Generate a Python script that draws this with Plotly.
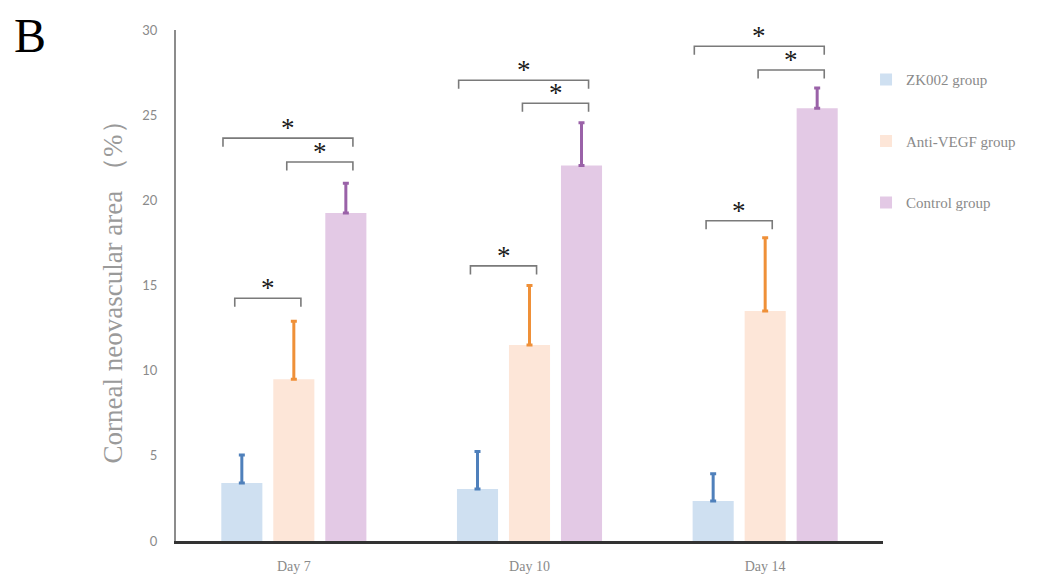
import plotly.graph_objects as go

days = ["Day 7", "Day 10", "Day 14"]
groups = ["ZK002 group", "Anti-VEGF group", "Control group"]
means = {
    "ZK002 group": [3.4, 3.05, 2.35],
    "Anti-VEGF group": [9.5, 11.5, 13.5],
    "Control group": [19.25, 22.05, 25.4],
}
errors = {
    "ZK002 group": [1.65, 2.2, 1.6],
    "Anti-VEGF group": [3.4, 3.5, 4.3],
    "Control group": [1.75, 2.5, 1.2],
}
bar_colors = ["#cfe0f1", "#fde6d8", "#e3c9e5"]
err_colors = ["#4f80bb", "#ef9038", "#9a62a8"]

# significance brackets: (day index, left group index, right group index, height)
brackets = [
    (0, 0, 2, 23.65), (0, 1, 2, 22.25), (0, 0, 1, 14.25),
    (1, 0, 2, 27.05), (1, 1, 2, 25.7), (1, 0, 1, 16.15),
    (2, 0, 2, 29.05), (2, 1, 2, 27.65), (2, 0, 1, 18.8),
]

BARGAP = 0.338
BARGROUPGAP = 0.21
slot = (1 - BARGAP) / len(groups)

fig = go.Figure()
for i, g in enumerate(groups):
    fig.add_trace(go.Bar(
        x=days, y=means[g], name=g,
        marker=dict(color=bar_colors[i], line=dict(width=0)),
        error_y=dict(type="data", symmetric=False, array=errors[g],
                     arrayminus=[0] * len(days), color=err_colors[i],
                     thickness=3, width=3),
        legendgroup=g,
    ))

def bar_center(day_idx, grp_idx):
    return day_idx + (grp_idx - (len(groups) - 1) / 2) * slot

line_col = "#7a7a7a"
leg = 0.5
for d, a, b, h in brackets:
    pad_l = 0.08 if (b - a) == 2 else 0.03
    x0 = bar_center(d, a) - pad_l
    x1 = bar_center(d, b) + 0.03
    fig.add_shape(type="path",
                  path=f"M {x0} {h - leg} L {x0} {h} L {x1} {h} L {x1} {h - leg}",
                  xref="x", yref="y", line=dict(color=line_col, width=1.6))
    fig.add_annotation(x=(x0 + x1) / 2, y=h, xref="x", yref="y", text="*",
                       showarrow=False, yanchor="bottom", yshift=-7,
                       font=dict(family="Liberation Serif", size=27, color="#1a1a1a"))

fig.add_annotation(x=-0.206, y=1.045, xref="paper", yref="paper", text="B",
                   showarrow=False, xanchor="center", yanchor="top",
                   font=dict(family="Liberation Serif", size=48, color="#000"))

fig.update_layout(
    width=1029, height=566,
    margin=dict(l=168, r=154, t=22, b=33),
    paper_bgcolor="white", plot_bgcolor="white",
    barmode="group", bargap=BARGAP, bargroupgap=BARGROUPGAP,
    showlegend=True,
    legend=dict(x=0.976, y=0.935, xanchor="left", yanchor="top",
                traceorder="grouped", tracegroupgap=39,
                font=dict(family="Liberation Serif", size=15, color="#8a8a8a"),
                bgcolor="rgba(0,0,0,0)"),
    xaxis=dict(showline=True, linecolor="#333", linewidth=2.5, automargin=False,
               ticks="", showgrid=False, zeroline=False, ticklabelstandoff=10,
               tickfont=dict(family="Liberation Serif", size=14, color="#8a8a8a")),
    yaxis=dict(range=[0, 30], dtick=5, showline=True, linecolor="#8c8c8c",
               linewidth=2, ticks="", showgrid=False, zeroline=False,
               ticklabelstandoff=14, automargin=False,
               tickfont=dict(family="Lato", size=13, color="#8a8a8a"),
               title=dict(text="Corneal neovascular area （%）", standoff=12,
                          font=dict(family="Liberation Serif", size=27, color="#9a9a9a"))),
)

fig.write_html("out.html")
